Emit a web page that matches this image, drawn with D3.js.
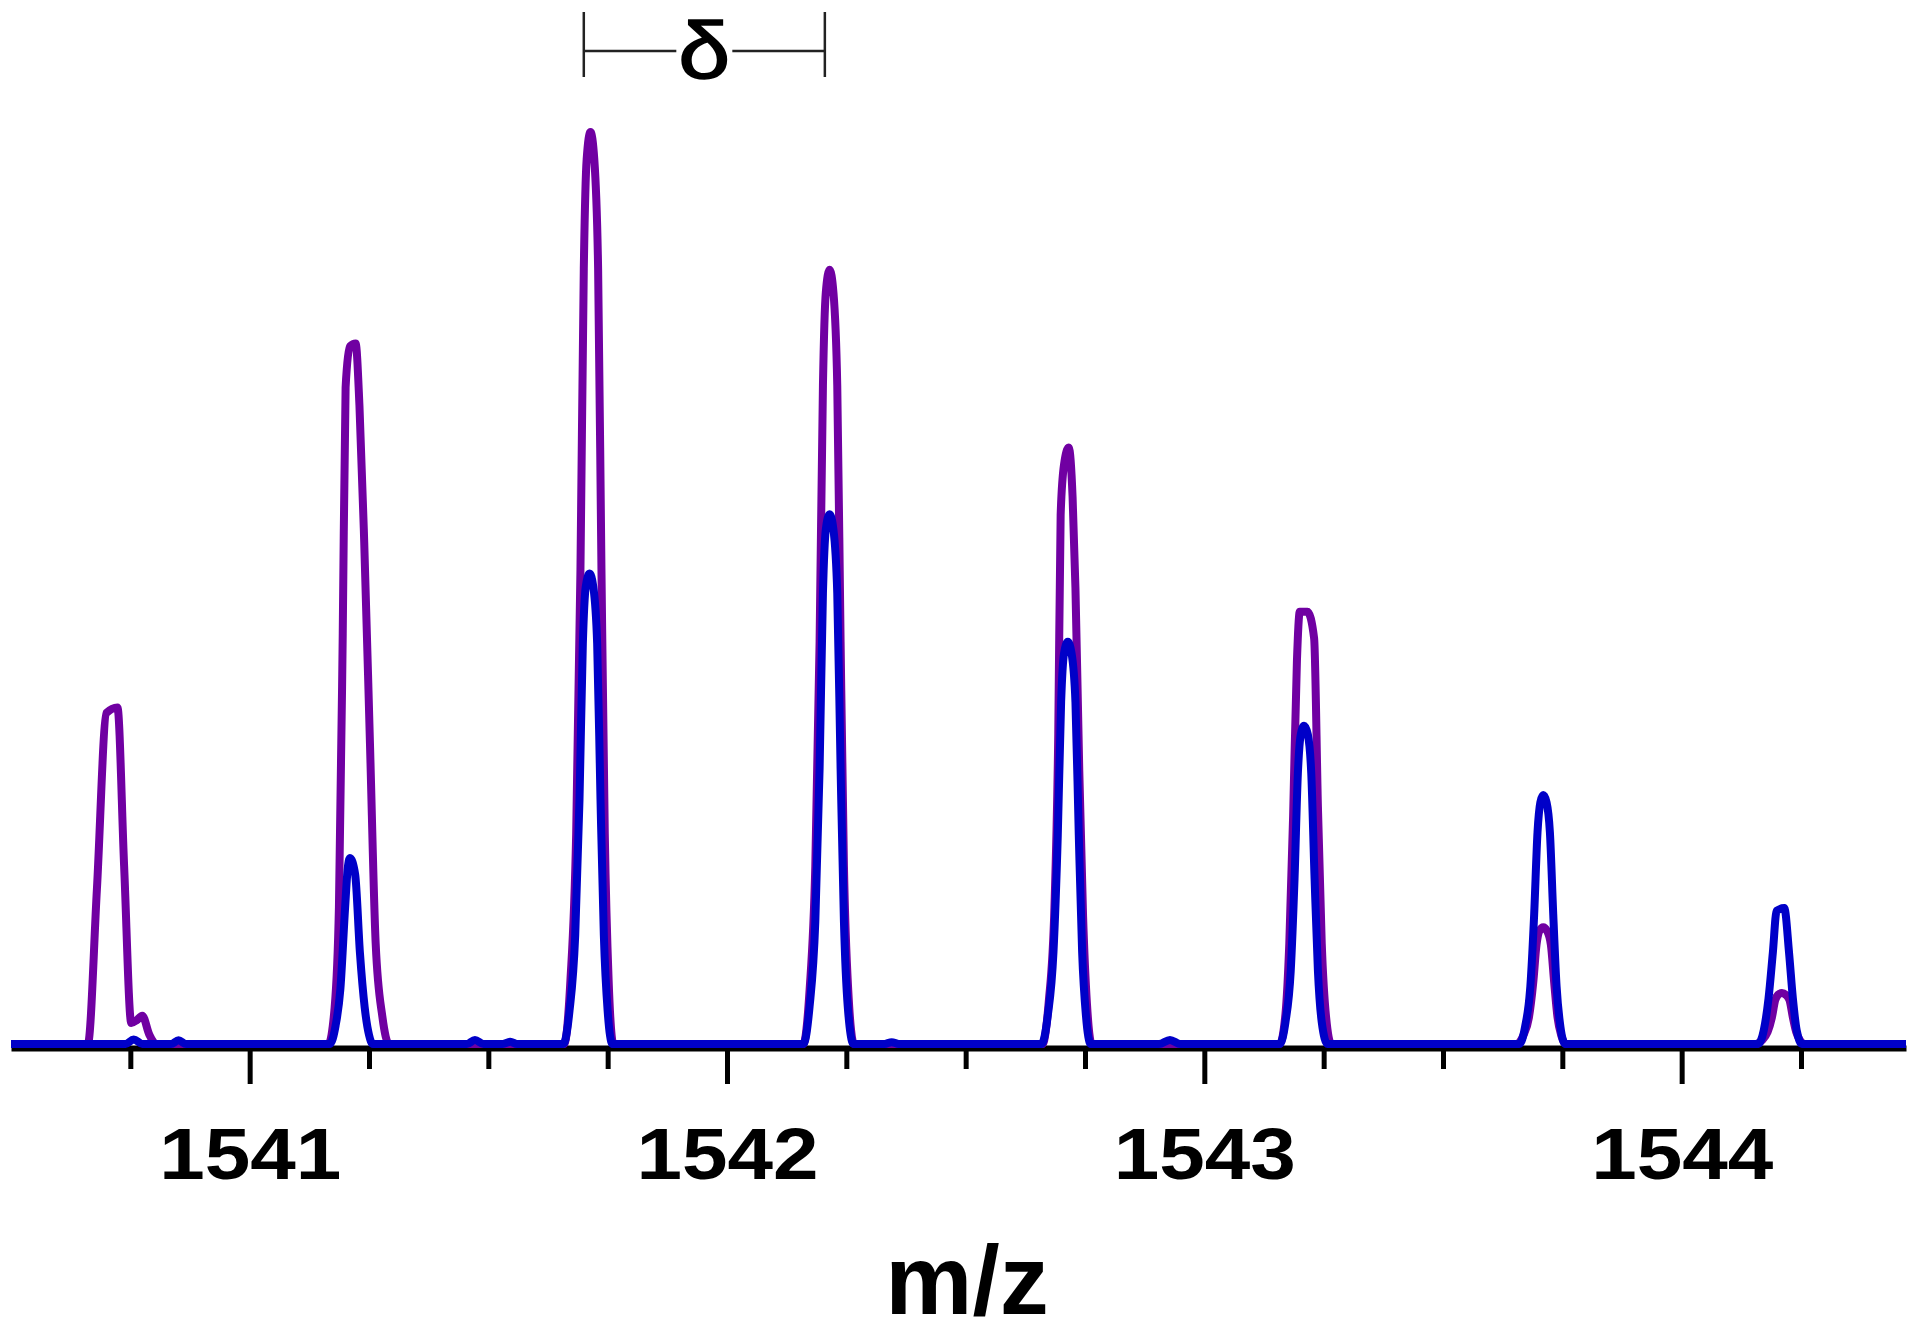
<!DOCTYPE html>
<html>
<head>
<meta charset="utf-8">
<script src="https://cdn.jsdelivr.net/npm/d3@7"></script>
<style>
  html, body { margin: 0; padding: 0; background: #fff; }
  svg { display: block; }
  .lbl { font-family: "Liberation Sans", Arial, sans-serif; font-weight: bold; fill: #000; }
</style>
</head>
<body>
<div id="chart"></div>
<script>
// ---------------- data ----------------
// m/z range shown on the x axis
const xDomain = [1540.5, 1544.47]

// major (labelled) and minor ticks
const majorTicks = [1541, 1542, 1543, 1544]
const minorTicks = [1540.75, 1541.25, 1541.5, 1541.75, 1542.25, 1542.5, 1542.75,
                    1543.25, 1543.5, 1543.75, 1544.25]

// isotope spacing marker
const deltaSpan = [1541.70, 1542.205]
const deltaLabel = 'δ'
const xLabel = 'm/z'

// purple profile  [m/z, relative intensity]
const purpleProfile = [
  [1540.500, 0],
  [1540.661, 0], [1540.680, 17], [1540.700, 36.3], [1540.723, 36.9], [1540.737, 19.5],
  [1540.752, 2.3], [1540.763, 2.6], [1540.775, 3.1], [1540.790, 1.0], [1540.804, 0],
  [1541.165, 0], [1541.178, 4], [1541.187, 15], [1541.195, 45], [1541.201, 72], [1541.210, 76.5],
  [1541.222, 76.8], [1541.230, 70], [1541.240, 55], [1541.252, 33], [1541.264, 11], [1541.278, 3], [1541.292, 0],
  [1541.659, 0], [1541.672, 7], [1541.684, 23], [1541.693, 52], [1541.700, 85], [1541.706, 97], [1541.714, 100],
  [1541.722, 97], [1541.730, 85], [1541.737, 52], [1541.744, 23], [1541.752, 7], [1541.762, 0],
  [1542.160, 0], [1542.173, 5.9], [1542.185, 19.5], [1542.194, 44.1], [1542.201, 72.2], [1542.207, 82.4], [1542.215, 84.9],
  [1542.223, 82.4], [1542.231, 72.2], [1542.238, 44.1], [1542.245, 19.5], [1542.254, 5.9], [1542.266, 0],
  [1542.661, 0], [1542.674, 4.6], [1542.686, 15], [1542.694, 34], [1542.699, 58], [1542.706, 63.5], [1542.716, 65.4],
  [1542.724, 60], [1542.730, 50], [1542.738, 30], [1542.746, 14], [1542.754, 4.5], [1542.764, 0],
  [1543.158, 0], [1543.170, 3.3], [1543.178, 11], [1543.186, 25], [1543.194, 42], [1543.200, 47.4],
  [1543.216, 47.4], [1543.230, 44.5], [1543.238, 26], [1543.246, 11], [1543.255, 3], [1543.266, 0],
  [1543.655, 0], [1543.668, 0.9], [1543.680, 2.9], [1543.689, 6.7], [1543.696, 10.9], [1543.702, 12.4], [1543.710, 12.8],
  [1543.718, 12.4], [1543.726, 10.9], [1543.733, 6.7], [1543.740, 2.9], [1543.748, 0.9], [1543.758, 0],
  [1544.155, 0], [1544.168, 0.4], [1544.180, 1.3], [1544.189, 2.9], [1544.196, 4.8], [1544.202, 5.4], [1544.210, 5.6],
  [1544.218, 5.4], [1544.226, 4.8], [1544.233, 2.9], [1544.240, 1.3], [1544.248, 0.4], [1544.258, 0],
  [1544.470, 0]
]

// blue profile  [m/z, relative intensity]
const blueProfile = [
  [1540.500, 0],
  [1540.740, 0], [1540.757, 0.5], [1540.775, 0], [1540.835, 0], [1540.851, 0.4], [1540.867, 0],
  [1541.168, 0], [1541.180, 2], [1541.190, 6], [1541.200, 15], [1541.205, 19], [1541.210, 20.4], [1541.221, 18.6],
  [1541.231, 10], [1541.241, 4], [1541.250, 1], [1541.258, 0],
  [1541.455, 0], [1541.472, 0.45], [1541.490, 0], [1541.530, 0], [1541.546, 0.25], [1541.560, 0],
  [1541.657, 0], [1541.670, 3.6], [1541.682, 11.9], [1541.691, 26.8], [1541.698, 43.9], [1541.704, 50.1], [1541.712, 51.6],
  [1541.720, 50.1], [1541.728, 43.9], [1541.735, 26.8], [1541.742, 11.9], [1541.750, 3.6], [1541.760, 0],
  [1542.160, 0], [1542.173, 4.1], [1542.185, 13.4], [1542.194, 30.2], [1542.201, 49.4], [1542.207, 56.4], [1542.215, 58.1],
  [1542.223, 56.4], [1542.231, 49.4], [1542.238, 30.2], [1542.245, 13.4], [1542.253, 4.1], [1542.265, 0],
  [1542.330, 0], [1542.345, 0.2], [1542.360, 0],
  [1542.659, 0], [1542.672, 3.1], [1542.684, 10.1], [1542.693, 22.9], [1542.700, 37.5], [1542.706, 42.8], [1542.714, 44.1],
  [1542.722, 42.8], [1542.730, 37.5], [1542.737, 22.9], [1542.744, 10.1], [1542.752, 3.1], [1542.762, 0],
  [1542.905, 0], [1542.928, 0.45], [1542.950, 0],
  [1543.158, 0], [1543.170, 2.4], [1543.181, 8.0], [1543.189, 18.1], [1543.196, 29.7], [1543.202, 33.9], [1543.209, 34.9],
  [1543.217, 33.9], [1543.224, 29.7], [1543.231, 18.1], [1543.238, 8.0], [1543.246, 2.4], [1543.258, 0],
  [1543.660, 0], [1543.672, 1.9], [1543.683, 6.3], [1543.691, 14.2], [1543.698, 23.2], [1543.704, 26.5], [1543.710, 27.3],
  [1543.717, 26.5], [1543.724, 23.2], [1543.731, 14.2], [1543.738, 6.3], [1543.746, 1.9], [1543.756, 0],
  [1544.160, 0], [1544.172, 1.5], [1544.182, 5], [1544.191, 10], [1544.199, 14.6], [1544.215, 14.9],
  [1544.225, 10], [1544.233, 5], [1544.241, 1.5], [1544.252, 0],
  [1544.470, 0]
]

// ---------------- layout ----------------
const svgWidth = 1920
const svgHeight = 1327
const axisY = 1048

const svg = d3.select('#chart')
    .append('svg')
    .attr('width', svgWidth)
    .attr('height', svgHeight)

svg.append('rect')
    .attr('width', svgWidth)
    .attr('height', svgHeight)
    .attr('fill', '#fff')

// scales
const x = d3.scaleLinear()
    .domain(xDomain)
    .range([11, 1906])

const y = d3.scaleLinear()
    .domain([0, 100])
    .range([1044, 132])

// ---------------- axis ----------------
// minor ticks (no labels)
svg.append('g')
    .attr('transform', `translate(0,${axisY})`)
    .call(d3.axisBottom(x).tickValues(minorTicks).tickSize(21).tickSizeOuter(0).tickFormat(''))
    .call(g => g.select('.domain').attr('stroke', '#000').attr('stroke-width', 6))
    .call(g => g.selectAll('.tick line').attr('stroke', '#000').attr('stroke-width', 5))

// major ticks with labels (glyphs in the picture are a bit wide, so stretch them)
svg.append('g')
    .attr('transform', `translate(0,${axisY})`)
    .call(d3.axisBottom(x).tickValues(majorTicks).tickSize(36).tickSizeOuter(0).tickFormat(d3.format('d')))
    .call(g => g.select('.domain').remove())
    .call(g => g.selectAll('.tick line').attr('stroke', '#000').attr('stroke-width', 5))
    .call(g => g.selectAll('.tick text')
        .attr('class', 'lbl')
        .attr('y', 131)
        .attr('dy', 0)
        .attr('font-size', 72)
        .attr('textLength', 182)
        .attr('lengthAdjust', 'spacingAndGlyphs'))

// axis title
svg.append('text')
    .attr('class', 'lbl')
    .attr('x', 967)
    .attr('y', 1314)
    .attr('text-anchor', 'middle')
    .attr('font-size', 98)
    .text(xLabel)

// ---------------- spectra ----------------
const line = d3.line()
    .x(d => x(d[0]))
    .y(d => y(d[1]))
    .curve(d3.curveMonotoneX)

svg.append('path')
    .datum(purpleProfile)
    .attr('d', line)
    .attr('fill', 'none')
    .attr('stroke', '#7000a2')
    .attr('stroke-width', 8)
    .attr('stroke-linejoin', 'round')

svg.append('path')
    .datum(blueProfile)
    .attr('d', line)
    .attr('fill', 'none')
    .attr('stroke', '#0000c8')
    .attr('stroke-width', 8)
    .attr('stroke-linejoin', 'round')

// ---------------- delta marker ----------------
const dl = x(deltaSpan[0])
const dr = x(deltaSpan[1])
const dm = (dl + dr) / 2
const mark = svg.append('g').attr('stroke', '#222').attr('stroke-width', 2.5)

mark.append('line').attr('x1', dl).attr('x2', dl).attr('y1', 12).attr('y2', 77)
mark.append('line').attr('x1', dr).attr('x2', dr).attr('y1', 12).attr('y2', 77)
mark.append('line').attr('x1', dl).attr('x2', dm - 28).attr('y1', 51).attr('y2', 51)
mark.append('line').attr('x1', dm + 28).attr('x2', dr).attr('y1', 51).attr('y2', 51)

svg.append('text')
    .attr('x', dm)
    .attr('y', 78)
    .attr('text-anchor', 'middle')
    .attr('font-family', '"Liberation Sans", Arial, sans-serif')
    .attr('font-size', 80)
    .attr('fill', '#000')
    .attr('stroke', '#000')
    .attr('stroke-width', 1.5)
    .attr('textLength', 52)
    .attr('lengthAdjust', 'spacingAndGlyphs')
    .text(deltaLabel)
</script>
</body>
</html>
